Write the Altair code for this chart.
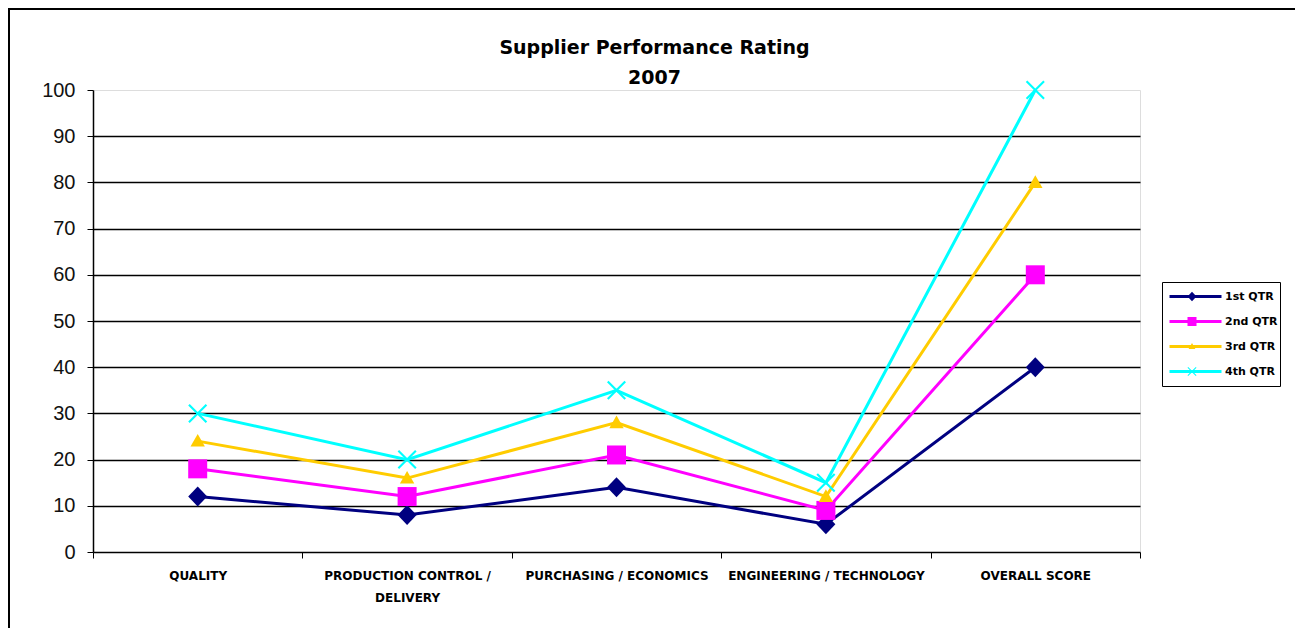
import altair as alt
import pandas as pd

categories = ["QUALITY", "PRODUCTION CONTROL / DELIVERY", "PURCHASING / ECONOMICS",
              "ENGINEERING / TECHNOLOGY", "OVERALL SCORE"]
series = ["1st QTR", "2nd QTR", "3rd QTR", "4th QTR"]
q1 = [12, 8, 14, 6, 40]
q2 = [18, 12, 21, 9, 60]
q3 = [24, 16, 28, 12, 80]
q4 = [30, 20, 35, 15, 100]
colors = ["#000080", "#FF00FF", "#FFCC00", "#00FFFF"]
y_ticks = [0, 10, 20, 30, 40, 50, 60, 70, 80, 90, 100]

shapes = [
    "M0,-1L0.95,0L0,1L-0.95,0Z",
    "M-0.95,-0.95L0.95,-0.95L0.95,0.95L-0.95,0.95Z",
    "M0,-0.72L0.72,0.55L-0.72,0.55Z",
    "M-0.95,-0.8L-0.8,-0.95L0,-0.15L0.8,-0.95L0.95,-0.8L0.15,0L0.95,0.8L0.8,0.95L0,0.15L-0.8,0.95L-0.95,0.8L-0.15,0Z",
]

rows = []
for s, vals in zip(series, [q1, q2, q3, q4]):
    for c, v in zip(categories, vals):
        rows.append({"category": c, "series": s, "value": v})
df = pd.DataFrame(rows)

x_enc = alt.X(
    "category:N", sort=categories, title=None,
    scale=alt.Scale(type="band", paddingInner=0, paddingOuter=0),
    axis=alt.Axis(
        labelAngle=0, labelLimit=0, tickBand="extent", tickSize=6, tickColor="black",
        domainColor="black", domainWidth=1.5, labelFont="DejaVu Sans", labelFontSize=12,
        labelFontWeight="bold", labelColor="black", labelPadding=12, labelLineHeight=22,
        labelExpr="datum.value == 'PRODUCTION CONTROL / DELIVERY' ? ['PRODUCTION CONTROL /', 'DELIVERY'] : datum.value",
        grid=False,
    ),
)
y_enc = alt.Y(
    "value:Q", title=None,
    scale=alt.Scale(domain=[0, 100], nice=False),
    axis=alt.Axis(
        values=y_ticks, tickSize=6, tickColor="black", domainColor="black", domainWidth=1.5,
        labelFont="Liberation Sans", labelFontSize=20, labelColor="#111", labelPadding=12,
        grid=True, gridWidth=1.5,
        gridColor={"condition": {"test": "datum.value === 100 || datum.value === 0", "value": "transparent"}, "value": "black"},
    ),
)

color_scale = alt.Scale(domain=series, range=colors)

lines = alt.Chart(df).mark_line(strokeWidth=3).encode(
    x=x_enc, y=y_enc,
    color=alt.Color("series:N", scale=color_scale, legend=alt.Legend(
        title=None, orient="none", legendX=1069, legendY=192, padding=2,
        strokeColor="black", symbolType="stroke", symbolSize=2704, symbolStrokeWidth=3,
        symbolOffset=4, labelOffset=2, clipHeight=25, rowPadding=0,
        labelFont="DejaVu Sans", labelFontSize=11, labelFontWeight="bold", labelColor="black",
    )),
)

marker_legend = alt.Legend(
    title=None, orient="none", legendX=1069, legendY=192, padding=2,
    symbolSize=90, symbolStrokeWidth=0, symbolOffset=23, clipHeight=25, rowPadding=0,
    labelExpr="''", labelFontSize=10,
)

points = alt.Chart(df).mark_point(filled=True, size=400, opacity=1, strokeWidth=0).encode(
    x=x_enc, y=y_enc,
    color=alt.Color("series:N", scale=color_scale, legend=marker_legend),
    shape=alt.Shape("series:N", scale=alt.Scale(domain=series, range=shapes), legend=marker_legend),
)

frame_left = alt.Chart(alt.Data(values=[{}])).mark_rule(color="black", strokeWidth=2).encode(
    x=alt.value(-84), y=alt.value(-82), y2=alt.value(540))
frame_top = alt.Chart(alt.Data(values=[{}])).mark_rule(color="black", strokeWidth=2).encode(
    x=alt.value(-85), x2=alt.value(1210), y=alt.value(-81))

chart = alt.layer(lines, points, frame_left, frame_top).resolve_legend(
    color="independent", shape="independent"
).properties(
    width=1047, height=462,
    autosize=alt.AutoSizeParams(type="none"),
    padding={"left": 85, "top": 82, "right": 155, "bottom": 76},
    title=alt.TitleParams(
        text=["Supplier Performance Rating", "2007"], anchor="middle", frame="group",
        dx=38, dy=87, font="DejaVu Sans", fontSize=19, fontWeight="bold", lineHeight=30,
        color="black", offset=6, baseline="top", orient="top",
    ),
).configure_view(stroke=None).configure(background="white")

chart.save("out.html", embed_options={"renderer": "svg", "actions": False})
